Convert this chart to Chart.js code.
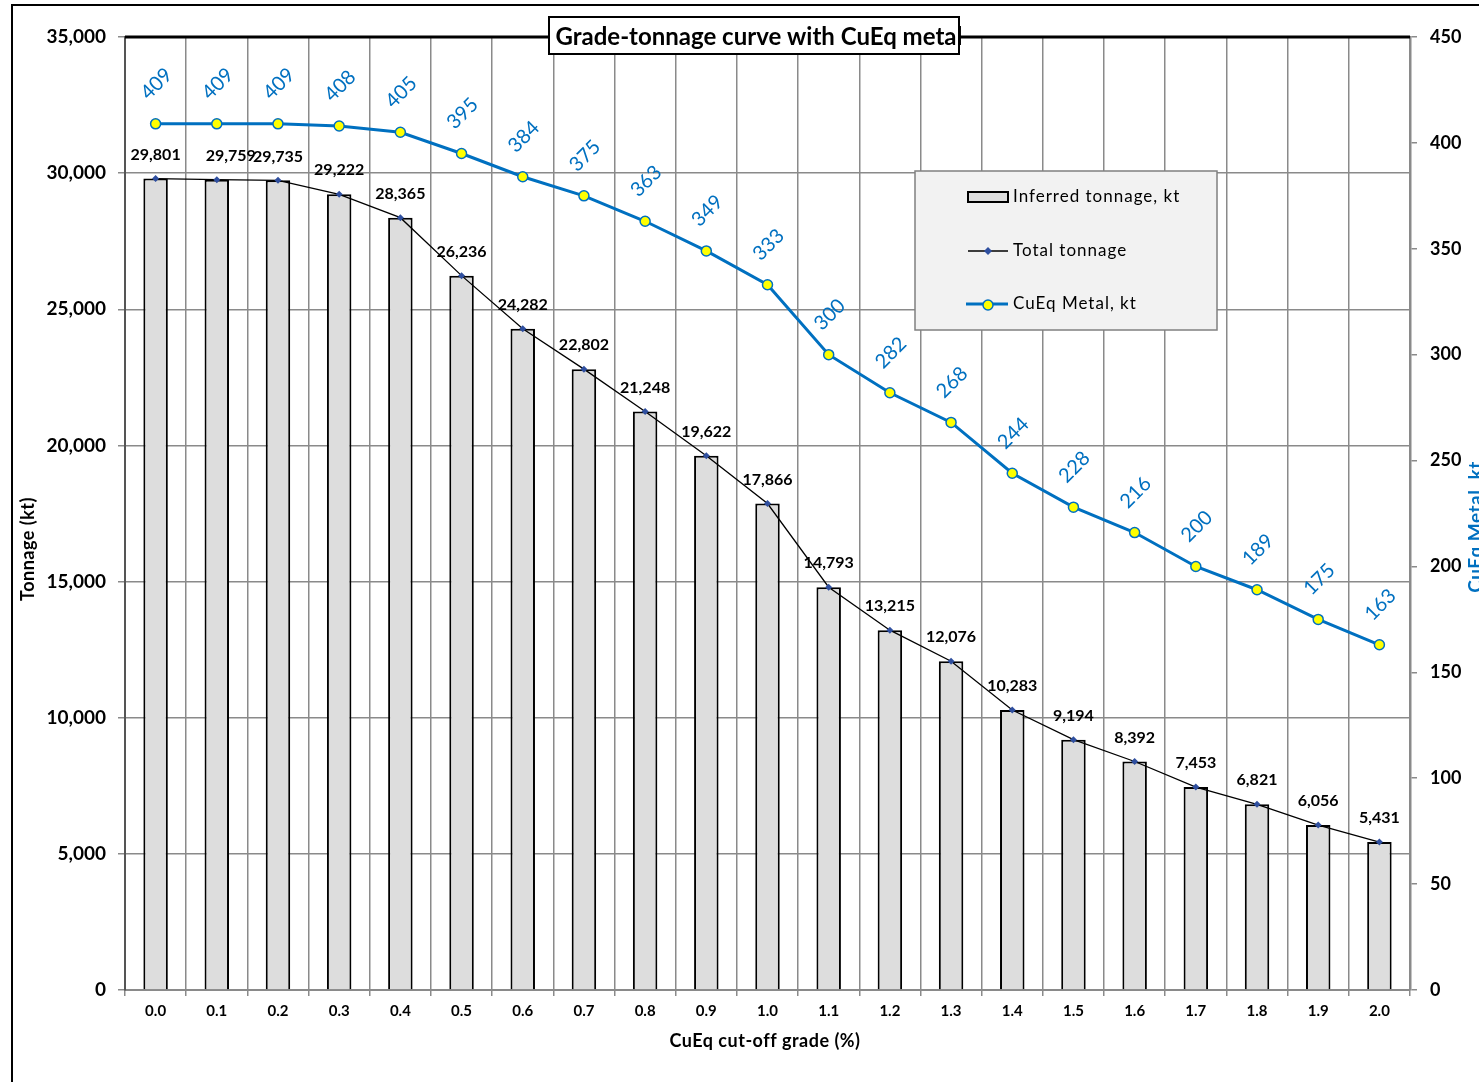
<!DOCTYPE html>
<html>
<head>
<meta charset="utf-8">
<title>Grade-tonnage curve</title>
<script src="https://cdn.jsdelivr.net/npm/chart.js@4.4.1/dist/chart.umd.min.js"></script>
<style>
    body { margin: 0; background: #fff; overflow: hidden; }
    canvas { display: block; }
</style>
</head>
<body>
<canvas id="grade_tonnage" width="1479" height="1082"></canvas>
<script>
// cut-off grades (%)
const grades = ['0.0', '0.1', '0.2', '0.3', '0.4', '0.5', '0.6', '0.7', '0.8', '0.9', '1.0',
                '1.1', '1.2', '1.3', '1.4', '1.5', '1.6', '1.7', '1.8', '1.9', '2.0'];

const inferredTonnage = [29801, 29759, 29735, 29222, 28365, 26236, 24282, 22802, 21248, 19622, 17866,
                         14793, 13215, 12076, 10283, 9194, 8392, 7453, 6821, 6056, 5431];

const totalTonnage = [29801, 29759, 29735, 29222, 28365, 26236, 24282, 22802, 21248, 19622, 17866,
                      14793, 13215, 12076, 10283, 9194, 8392, 7453, 6821, 6056, 5431];

const cueqMetal = [409, 409, 409, 408, 405, 395, 384, 375, 363, 349, 333,
                   300, 282, 268, 244, 228, 216, 200, 189, 175, 163];

const tonnageAxis = {min: 0, max: 35000, step: 5000};
const metalAxis = {min: 0, max: 450, step: 50};

const FONT = 'Lato, "Open Sans", sans-serif';
const BLUE = '#0070C0';
const GRID = '#8a8a8a';

// outer frame of the picture
const frame = {
    id: 'frame',
    beforeDraw(chart) {
        let ctx = chart.ctx;
        ctx.save();
        ctx.fillStyle = '#fff';
        ctx.fillRect(0, 0, chart.width, chart.height);
        ctx.strokeStyle = '#000';
        ctx.lineWidth = 2;
        ctx.beginPath();
        ctx.moveTo(12, chart.height + 2);
        ctx.lineTo(12, 5);
        ctx.lineTo(chart.width + 2, 5);
        ctx.stroke();
        ctx.restore();
    }
};

// value labels above the points
const valueLabels = {
    id: 'valueLabels',
    afterDatasetsDraw(chart) {
        let ctx = chart.ctx;
        ctx.save();
        ctx.textAlign = 'center';
        ctx.textBaseline = 'middle';

        ctx.font = 'bold 16px ' + FONT;
        ctx.fillStyle = '#000';
        chart.getDatasetMeta(1).data.forEach((pt, i) => {
            let dx = i === 1 ? 14 : 0;
            ctx.fillText(totalTonnage[i].toLocaleString('en-US'), pt.x + dx, pt.y - 24);
        });

        ctx.font = '20px ' + FONT;
        ctx.fillStyle = BLUE;
        chart.getDatasetMeta(2).data.forEach((pt, i) => {
            ctx.save();
            ctx.translate(pt.x + 1, pt.y - 40);
            ctx.rotate(-Math.PI / 4);
            ctx.fillText(String(cueqMetal[i]), 0, 0);
            ctx.restore();
        });
        ctx.restore();
    }
};

// top border, title box, legend and axis titles
const decorations = {
    id: 'decorations',
    afterDraw(chart) {
        let ctx = chart.ctx;
        let area = chart.chartArea;
        ctx.save();

        ctx.strokeStyle = '#000';
        ctx.lineWidth = 3;
        ctx.beginPath();
        ctx.moveTo(area.left, area.top);
        ctx.lineTo(area.right, area.top);
        ctx.stroke();

        // title
        ctx.fillStyle = '#fff';
        ctx.fillRect(549, 17, 410, 37);
        ctx.lineWidth = 2;
        ctx.strokeRect(549, 17, 410, 37);
        ctx.fillStyle = '#000';
        ctx.font = 'bold 24px ' + FONT;
        ctx.textAlign = 'center';
        ctx.textBaseline = 'middle';
        ctx.fillText('Grade-tonnage curve with CuEq metal', 759, 37);

        // legend
        ctx.fillStyle = '#f2f2f2';
        ctx.fillRect(915, 171, 302, 159);
        ctx.strokeStyle = '#808080';
        ctx.lineWidth = 1.5;
        ctx.strokeRect(915, 171, 302, 159);

        ctx.fillStyle = '#dddddd';
        ctx.fillRect(968, 192, 40, 10);
        ctx.strokeStyle = '#000';
        ctx.lineWidth = 2;
        ctx.strokeRect(968, 192, 40, 10);

        ctx.lineWidth = 1.5;
        ctx.beginPath();
        ctx.moveTo(968, 251);
        ctx.lineTo(1008, 251);
        ctx.stroke();
        ctx.fillStyle = '#2f4f9f';
        ctx.beginPath();
        ctx.moveTo(988, 247); ctx.lineTo(992, 251); ctx.lineTo(988, 255); ctx.lineTo(984, 251);
        ctx.closePath();
        ctx.fill();

        ctx.strokeStyle = BLUE;
        ctx.lineWidth = 3;
        ctx.beginPath();
        ctx.moveTo(966, 304);
        ctx.lineTo(1008, 304);
        ctx.stroke();
        ctx.fillStyle = '#ffff00';
        ctx.lineWidth = 1.5;
        ctx.beginPath();
        ctx.arc(988, 305, 5, 0, Math.PI * 2);
        ctx.fill();
        ctx.stroke();

        ctx.fillStyle = '#000';
        ctx.font = '17px ' + FONT;
        ctx.textAlign = 'left';
        ctx.letterSpacing = '1px';
        ctx.fillText('Inferred tonnage, kt', 1013, 197);
        ctx.fillText('Total tonnage', 1013, 251);
        ctx.fillText('CuEq Metal, kt', 1013, 304);

        // axis titles
        ctx.letterSpacing = '0.5px';
        ctx.textAlign = 'center';
        ctx.font = 'bold 18px ' + FONT;
        ctx.fillText('CuEq cut-off grade (%)', 765, 1041);

        ctx.save();
        ctx.translate(28, 549);
        ctx.rotate(-Math.PI / 2);
        ctx.font = 'bold 18px ' + FONT;
        ctx.fillText('Tonnage (kt)', 0, 0);
        ctx.restore();

        ctx.save();
        ctx.translate(1476, 527);
        ctx.rotate(-Math.PI / 2);
        ctx.font = 'bold 19px ' + FONT;
        ctx.fillStyle = BLUE;
        ctx.fillText('CuEq Metal, kt', 0, 0);
        ctx.restore();
        ctx.letterSpacing = '0px';

        ctx.restore();
    }
};

let ctx = document.getElementById('grade_tonnage').getContext('2d');

const config = {
    data: {
        labels: grades,
        datasets: [
            {
                type: 'bar',
                label: 'Inferred tonnage, kt',
                data: inferredTonnage,
                backgroundColor: '#dddddd',
                borderColor: '#000',
                borderWidth: 2,
                barPercentage: 0.4,
                categoryPercentage: 1,
                yAxisID: 'y',
                order: 3,
            },
            {
                type: 'line',
                label: 'Total tonnage',
                data: totalTonnage,
                borderColor: '#000',
                borderWidth: 1.3,
                pointStyle: 'rectRot',
                pointRadius: 3.5,
                pointBackgroundColor: '#2f4f9f',
                pointBorderColor: '#2f4f9f',
                pointBorderWidth: 0,
                tension: 0,
                fill: false,
                yAxisID: 'y',
                order: 2,
            },
            {
                type: 'line',
                label: 'CuEq Metal, kt',
                data: cueqMetal,
                borderColor: BLUE,
                borderWidth: 3,
                pointStyle: 'circle',
                pointRadius: 5,
                pointBackgroundColor: '#ffff00',
                pointBorderColor: BLUE,
                pointBorderWidth: 1.5,
                tension: 0,
                fill: false,
                yAxisID: 'y2',
                order: 1,
            },
        ],
    },

    options: {
        responsive: false,
        animation: false,
        devicePixelRatio: 1,
        layout: {
            padding: {top: 37, left: 0, right: 0, bottom: 0},
        },
        plugins: {
            legend: {display: false},
            title: {display: false},
            tooltip: {enabled: false},
        },
        scales: {
            x: {
                offset: true,
                grid: {
                    offset: true,
                    color: GRID,
                    lineWidth: 1.5,
                    tickLength: 6,
                },
                border: {color: GRID, width: 2},
                ticks: {
                    color: '#000',
                    font: {family: FONT, size: 15, weight: 'bold'},
                    padding: 6,
                    maxRotation: 0,
                },
                afterFit: (s) => { s.height = 92; },
            },
            y: {
                position: 'left',
                min: tonnageAxis.min,
                max: tonnageAxis.max,
                grid: {color: GRID, lineWidth: 1.5, tickLength: 7},
                border: {color: '#555', width: 2},
                ticks: {
                    stepSize: tonnageAxis.step,
                    color: '#000',
                    font: {family: FONT, size: 19, weight: 'bold'},
                    padding: 12,
                    callback: (v) => v.toLocaleString('en-US'),
                },
                afterFit: (s) => { s.width = 125; },
            },
            y2: {
                position: 'right',
                min: metalAxis.min,
                max: metalAxis.max,
                grid: {drawOnChartArea: false, color: GRID, lineWidth: 1.5, tickLength: 7},
                border: {color: GRID, width: 2.5},
                ticks: {
                    stepSize: metalAxis.step,
                    color: '#000',
                    font: {family: FONT, size: 18, weight: 'bold'},
                    padding: 13,
                },
                afterFit: (s) => { s.width = 69; },
            },
        },
    },
    plugins: [frame, valueLabels, decorations],
};

this.chart = new Chart(ctx, config);
</script>
</body>
</html>
